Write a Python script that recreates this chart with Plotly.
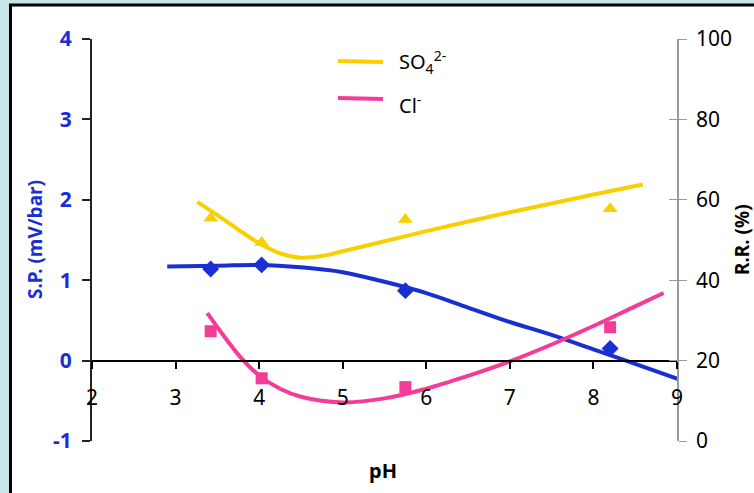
import plotly.graph_objects as go

# measured points
ph_points = [3.42, 4.03, 5.75, 8.2]
sp_points = [1.14, 1.19, 0.87, 0.15]
cl_points = [27.3, 15.6, 13.4, 28.3]
so4_points = [55.4, 49.4, 55.1, 57.8]

# trend curves
sp_curve_ph = [2.9, 3.5, 4.0, 4.5, 5.0, 5.5, 6.0, 6.5, 7.0, 7.5, 8.0, 8.5, 9.07]
sp_curve = [1.17, 1.18, 1.19, 1.16, 1.10, 0.98, 0.84, 0.66, 0.48, 0.32, 0.14, -0.04, -0.25]
cl_curve_ph = [3.38, 3.6, 3.8, 4.0, 4.25, 4.5, 5.0, 5.5, 6.0, 6.5, 7.0, 7.5, 8.0, 8.5, 8.84]
cl_curve = [31.8, 25.5, 20.3, 16.3, 13.0, 11.0, 9.6, 10.6, 13.0, 16.2, 19.8, 24.0, 28.6, 33.5, 36.8]
so4_curve_ph = [3.26, 3.5, 3.75, 4.0, 4.25, 4.5, 4.75, 5.0, 5.5, 6.0, 6.5, 7.0, 7.5, 8.0, 8.59]
so4_curve = [59.5, 56.2, 52.6, 49.2, 46.7, 45.6, 46.0, 47.2, 49.7, 52.2, 54.6, 56.9, 59.1, 61.3, 63.8]

x_ticks = [2, 3, 4, 5, 6, 7, 8, 9]
left_ticks = [-1, 0, 1, 2, 3, 4]
left_tick_labels = ["-1", "0", "1", "2", "3", "4"]
right_ticks = [0, 20, 40, 60, 80, 100]

legend_names = ["SO<sub>4</sub><sup>2-</sup>", "Cl<sup>-</sup>"]

BLUE = "#1a2fd2"
PINK = "#f23c96"
YELLOW = "#f8d000"
FONT = "Noto Sans"

fig = go.Figure()
fig.add_trace(go.Scatter(x=so4_curve_ph, y=so4_curve, mode="lines", yaxis="y2",
                         line=dict(color=YELLOW, width=4, shape="spline"),
                         name="SO4 2-", showlegend=False))
fig.add_trace(go.Scatter(x=cl_curve_ph, y=cl_curve, mode="lines", yaxis="y2",
                         line=dict(color=PINK, width=4, shape="spline"),
                         name="Cl-", showlegend=False))
fig.add_trace(go.Scatter(x=sp_curve_ph, y=sp_curve, mode="lines",
                         line=dict(color=BLUE, width=4, shape="spline"),
                         showlegend=False))
fig.add_trace(go.Scatter(x=ph_points, y=sp_points, mode="markers",
                         marker=dict(symbol="diamond", size=13, color=BLUE),
                         showlegend=False))
fig.add_trace(go.Scatter(x=ph_points, y=cl_points, mode="markers", yaxis="y2",
                         marker=dict(symbol="square", size=12, color=PINK),
                         showlegend=False))
fig.add_trace(go.Scatter(x=ph_points, y=so4_points, mode="markers", yaxis="y2",
                         marker=dict(symbol="triangle-up", size=13, color=YELLOW),
                         showlegend=False))
# empty trace to activate yaxis3 (inner half of the crossing ticks)
fig.add_trace(go.Scatter(x=[None], y=[None], yaxis="y3", showlegend=False, hoverinfo="skip"))

L, R, T, B = 92, 77, 39, 52
W, H = 754, 493
pw, ph = W - L - R, H - T - B

def px(xp):
    return (xp - L) / pw

def py(yp):
    return (H - B - yp) / ph

fig.update_layout(
    width=W, height=H,
    margin=dict(l=L, r=R, t=T, b=B),
    paper_bgcolor="#c9e5e8",
    plot_bgcolor="white",
    font=dict(family=FONT, size=20, color="black"),
    showlegend=False,
    xaxis=dict(range=[2, 9], tickvals=x_ticks, anchor="free", position=0.2,
               showline=True, linecolor="black", linewidth=2,
               ticks="outside", ticklen=7, tickwidth=1.5, tickcolor="black",
               ticklabelstandoff=11, showgrid=False, zeroline=False,
               tickfont=dict(size=21, color="black")),
    yaxis=dict(range=[-1, 4], tickvals=left_ticks, ticktext=left_tick_labels,
               showline=True, linecolor="#222",
               linewidth=2, ticks="outside", ticklen=8, tickwidth=1.5, tickcolor="#222",
               showgrid=False, zeroline=False, ticklabelstandoff=6,
               tickfont=dict(size=21, color=BLUE, family=FONT, weight="bold")),
    yaxis2=dict(range=[0, 100], tickvals=right_ticks, overlaying="y", side="right",
                anchor="x", showline=True, linecolor="#9a9a9a", linewidth=1.5,
                ticks="outside", ticklen=8, tickcolor="#9a9a9a", showgrid=False,
                zeroline=False, ticklabelstandoff=5,
                tickfont=dict(size=21, color="black")),
    yaxis3=dict(range=[0, 100], tickvals=right_ticks, overlaying="y", side="right",
                anchor="x", showline=False, ticks="inside", ticklen=8,
                tickcolor="#9a9a9a", showticklabels=False, showgrid=False,
                zeroline=False),
)

# white panel with black frame
fig.add_shape(type="rect", xref="paper", yref="paper",
              x0=px(10.5), x1=px(780), y0=py(5), y1=py(520),
              fillcolor="white", line=dict(color="black", width=3), layer="below")

# legend (line samples + labels)
for name, color, yl, yt in [(legend_names[0], YELLOW, 61, 62), (legend_names[1], PINK, 98, 104)]:
    fig.add_shape(type="line", xref="paper", yref="paper",
                  x0=px(338), x1=px(383), y0=py(yl), y1=py(yl + 1),
                  line=dict(color=color, width=4))
    fig.add_annotation(text=name, xref="paper", yref="paper", x=px(397), y=py(yt),
                       xanchor="left", yanchor="middle", showarrow=False,
                       font=dict(size=20, color="black"))

fig.add_annotation(text="<b>pH</b>", xref="paper", yref="paper", x=px(383), y=py(470),
                   xanchor="center", yanchor="middle",
                   showarrow=False, font=dict(size=20, color="black"))
fig.add_annotation(text="<b>S.P. (mV/bar)</b>", xref="paper", yref="paper", x=px(35), y=0.5,
                   xanchor="center", yanchor="middle",
                   textangle=-90, showarrow=False, font=dict(size=19, color=BLUE))
fig.add_annotation(text="<b>R.R. (%)</b>", xref="paper", yref="paper", x=px(742), y=0.5,
                   xanchor="center", yanchor="middle",
                   textangle=-90, showarrow=False, font=dict(size=19, color="black"))

fig.write_html("out.html", config={"displayModeBar": False},
               post_script="document.body.style.margin='0';")
